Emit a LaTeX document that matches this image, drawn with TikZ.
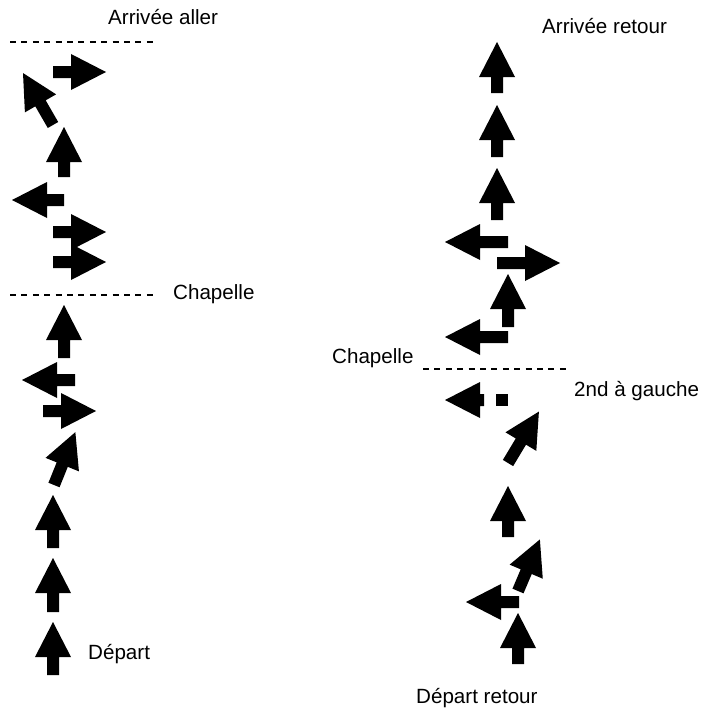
\documentclass[tikz,border=0pt]{standalone}
\usepackage{fontspec}
\setmainfont{Liberation Sans}
\usetikzlibrary{positioning}

\begin{document}
\begin{tikzpicture}[
    x=1pt, y=-1pt,
    pics/fleche/.style={code={\fill (0,-6) -- ({#1-35},-6) -- ({#1-35},-18) -- (#1,0) -- ({#1-35},18) -- ({#1-35},6) -- (0,6) -- cycle;}},
    limite/.style={dash pattern=on 6pt off 5.4pt, line width=1.3pt},
    etiquette/.style={anchor=base west, inner sep=0pt, font=\fontsize{20.6}{24}\selectfont}
]
\useasboundingbox (0,0) rectangle (714,709);
\node[etiquette] (arriveeAller) at (108,25) {Arrivée aller};
\draw[limite] (10,42) -- (158,42);
\pic at (53,72) {fleche=53};
\pic[rotate=120] at (53,125) {fleche=60};
\pic[rotate=90] at (64,177) {fleche=50};
\pic[rotate=180] at (64,200) {fleche=52};
\pic at (53,232) {fleche=53};
\pic at (53,262) {fleche=53};
\draw[limite] (10,295) -- (158,295);
\node[etiquette] (chapelleAller) at (173,299) {Chapelle};
\pic[rotate=90] at (64,358) {fleche=53};
\pic[rotate=180] at (75,380) {fleche=53};
\pic at (43,411) {fleche=53};
\pic[rotate=68] at (54,485) {fleche=57};
\pic[rotate=90] at (53,548) {fleche=53};
\pic[rotate=90] at (53,612) {fleche=54};
\pic[rotate=90] at (53,675) {fleche=53};
\node[etiquette] (depart) at (88,659) {Départ};
\node[etiquette] (arriveeRetour) at (542,34) {Arrivée retour};
\pic[rotate=90] at (497,93) {fleche=51};
\pic[rotate=90] at (497,157) {fleche=52};
\pic[rotate=90] at (497,220) {fleche=52};
\pic[rotate=180] at (508,242) {fleche=63};
\pic at (497,263) {fleche=63};
\pic[rotate=90] at (508,327) {fleche=53};
\pic[rotate=180] at (508,337) {fleche=63};
\node[etiquette] (chapelleRetour) at (332,363) {Chapelle};
\draw[limite] (423,369) -- (570,369);
\node[etiquette] (gauche) at (574,396) {2nd à gauche};
\pic[rotate=180] at (484,400) {fleche=39};
\fill (496,394) rectangle (508,406);
\pic[rotate=59] at (508,463) {fleche=60};
\pic[rotate=90] at (508,537) {fleche=51};
\pic[rotate=67] at (518,591) {fleche=56};
\pic[rotate=180] at (519,602) {fleche=53};
\pic[rotate=90] at (518,664) {fleche=51};
\node[etiquette] (departRetour) at (416,703) {Départ retour};
\end{tikzpicture}
\end{document}
